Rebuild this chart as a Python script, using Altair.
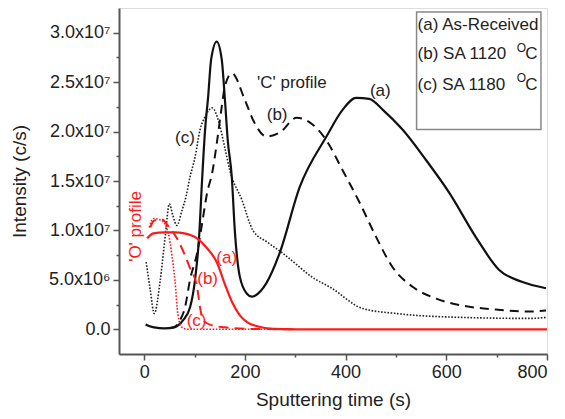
import altair as alt
import pandas as pd

FONT = "Liberation Sans"

# ---- 'C' profile curves (x: sputtering time s, y: intensity in 1e6 c/s) ----
c_a_x = [3, 6, 20, 40, 60, 65, 77, 91, 101, 109, 115, 121, 127, 133, 144, 154, 160, 166, 174, 180, 190, 204, 214, 220, 243, 269, 309, 362, 394, 421, 447, 474, 513, 560, 606, 659, 705, 750, 798]
c_a_y = [0.5, 0.4, 0.2, 0.1, 0.2, 0.3, 0.9, 2.2, 5.0, 9.3, 15.1, 20.2, 23.5, 27.3, 29.1, 27.3, 23.5, 19.1, 15.4, 10.0, 5.3, 3.6, 3.3, 3.4, 4.7, 7.7, 14.4, 19.5, 22.2, 23.4, 23.3, 22.2, 20.2, 17.1, 13.8, 9.3, 6.0, 4.8, 4.15]

c_b_x = [50, 62, 71, 81, 91, 105, 115, 125, 135, 145, 154, 160, 174, 200, 216, 243, 269, 303, 335, 362, 394, 428, 461, 493, 533, 580, 632, 699, 764, 798]
c_b_y = [0.1, 0.3, 0.9, 2.2, 5.0, 7.7, 10.7, 13.8, 15.8, 19.1, 22.5, 24.5, 25.9, 23.2, 21.2, 19.5, 19.9, 21.4, 20.7, 19.1, 16.1, 12.8, 9.3, 6.3, 4.3, 3.1, 2.4, 2.0, 1.8, 1.9]

c_c_x = [4, 12, 20, 32, 42, 50, 57, 65, 75, 83, 91, 101, 111, 121, 135, 147, 160, 170, 194, 216, 245, 275, 342, 368, 434, 500, 632, 764, 798]
c_c_y = [6.8, 4.0, 1.6, 5.0, 9.5, 12.7, 11.5, 10.5, 12.0, 13.4, 15.4, 17.4, 20.2, 21.5, 22.4, 21.2, 18.4, 16.1, 13.1, 10.0, 8.8, 7.7, 5.0, 4.3, 2.1, 1.6, 1.2, 1.1, 1.2]

# ---- 'O' profile curves ----
o_a_x = [6, 18, 40, 61, 80, 105, 125, 145, 160, 175, 190, 205, 225, 256, 300, 800]
o_a_y = [9.2, 9.7, 9.8, 9.8, 9.7, 9.2, 8.2, 6.7, 4.6, 2.7, 1.4, 0.7, 0.3, 0.05, 0.0, 0.0]

o_b_x = [12, 20, 35, 50, 65, 80, 91, 105, 111, 117, 135, 160, 200, 300]
o_b_y = [10.3, 11.0, 11.1, 10.3, 9.2, 7.6, 6.2, 4.3, 2.2, 0.9, 0.4, 0.2, 0.05, 0.0]

o_c_x = [10, 18, 35, 48, 55, 61, 67, 75, 85, 300]
o_c_y = [10.3, 11.2, 11.0, 9.7, 7.5, 5.0, 1.5, 0.2, 0.0, 0.0]

# ---- axis ticks ----
x_major = [0, 200, 400, 600, 800]
x_minor = [100, 300, 500, 700]
y_major = [0, 5e6, 1e7, 1.5e7, 2e7, 2.5e7, 3e7]
y_major_labels = ["0.0", "5.0x10\u2076", "1.0x10\u2077", "1.5x10\u2077", "2.0x10\u2077", "2.5x10\u2077", "3.0x10\u2077"]
y_minor = [2.5e6, 7.5e6, 1.25e7, 1.75e7, 2.25e7, 2.75e7]

# ---- annotations ----
ann_black_text = ["'C' profile", "(a)", "(b)", "(c)"]
ann_black_x = [224, 469, 264, 81]
ann_black_y = [24.9, 24.1, 21.7, 19.4]
ann_black_align = ["left", "center", "center", "center"]

ann_red_text = ["(a)", "(b)", "(c)"]
ann_red_x = [164, 126, 104]
ann_red_y = [7.2, 5.1, 0.8]

o_label_text = ["'O' profile"]
o_label_x = [-16]
o_label_y = [10.4]

legend_text = ["(a) As-Received", "(b) SA 1120", "(c) SA 1180"]
legend_x = [543, 543, 543]
legend_y = [30.8, 27.8, 24.7]
legend_sup_x = [740, 740]
legend_sup_y = [28.5, 25.4]
legend_c_x = [757, 757]
legend_c_y = [27.8, 24.7]
legend_box = {"x": 541, "x2": 788, "y": 32.1, "y2": 20.2}


def frame(xs, ys):
    return pd.DataFrame({"x": xs, "y": [v * 1e6 for v in ys]})


def cond_list(vals):
    return "[" + ",".join(str(int(v)) for v in vals) + "]"


y_label_expr = ""
for v, lab in zip(y_major, y_major_labels):
    y_label_expr += f"datum.value == {int(v)} ? '{lab}' : "
y_label_expr += "''"

X = alt.X(
    "x:Q",
    scale=alt.Scale(domain=[-50, 800], nice=False, zero=False),
    axis=alt.Axis(
        title="Sputtering time (s)",
        values=sorted(x_major + x_minor),
        labelExpr=f"indexof({cond_list(x_major)}, datum.value) >= 0 ? datum.label : ''",
        tickSize={"condition": {"test": f"indexof({cond_list(x_major)}, datum.value) >= 0", "value": 6}, "value": 3},
        grid=False,
        labelFont=FONT, labelFontSize=18, labelColor="#222", labelPadding=3,
        titleFont=FONT, titleFontSize=19, titleFontWeight="normal", titleColor="#222", titlePadding=9,
        domainColor="#555", domainWidth=2, tickColor="#555", tickWidth=1.5,
    ),
)
Y = alt.Y(
    "y:Q",
    scale=alt.Scale(domain=[-2.5e6, 3.25e7], nice=False, zero=False),
    axis=alt.Axis(
        title="Intensity (c/s)",
        values=sorted(y_major + y_minor),
        labelExpr=y_label_expr,
        tickSize={"condition": {"test": f"indexof({cond_list(y_major)}, datum.value) >= 0", "value": 6}, "value": 3},
        grid=False,
        labelFont=FONT, labelFontSize=18, labelColor="#222", labelPadding=3,
        titleFont=FONT, titleFontSize=19, titleFontWeight="normal", titleColor="#222", titlePadding=19,
        domainColor="#555", domainWidth=2, tickColor="#555", tickWidth=1.5,
    ),
)


def line(xs, ys, color, dash=None, width=2.0):
    kw = dict(color=color, strokeWidth=width, interpolate="monotone")
    if dash:
        kw["strokeDash"] = dash
    return alt.Chart(frame(xs, ys)).mark_line(**kw).encode(x=X, y=Y)


layers = [
    line(c_c_x, c_c_y, "#222", [1.6, 1.6], 1.6),
    line(c_b_x, c_b_y, "#111", [9, 6], 2),
    line(c_a_x, c_a_y, "#111", None, 2.2),
    line(o_c_x, o_c_y, "#ff1a1a", [1.6, 1.6], 1.6),
    line(o_b_x, o_b_y, "#ff1a1a", [10, 6], 2),
    line(o_a_x, o_a_y, "#ff1a1a", None, 2.2),
]

for t, xx, yy, al in zip(ann_black_text, ann_black_x, ann_black_y, ann_black_align):
    layers.append(
        alt.Chart(pd.DataFrame({"x": [xx], "y": [yy * 1e6], "t": [t]}))
        .mark_text(align=al, baseline="middle", font=FONT, fontSize=17, color="#222")
        .encode(x=X, y=Y, text="t:N")
    )

layers.append(
    alt.Chart(pd.DataFrame({"x": ann_red_x, "y": [v * 1e6 for v in ann_red_y], "t": ann_red_text}))
    .mark_text(align="center", baseline="middle", font=FONT, fontSize=17, color="#ff1a1a")
    .encode(x=X, y=Y, text="t:N")
)
layers.append(
    alt.Chart(pd.DataFrame({"x": o_label_x, "y": [v * 1e6 for v in o_label_y], "t": o_label_text}))
    .mark_text(align="center", baseline="middle", angle=270, font=FONT, fontSize=17, color="#ff1a1a")
    .encode(x=X, y=Y, text="t:N")
)

# legend box and entries
layers.append(
    alt.Chart(pd.DataFrame({"x": [legend_box["x"]], "x2": [legend_box["x2"]],
                            "y": [legend_box["y"] * 1e6], "y2": [legend_box["y2"] * 1e6]}))
    .mark_rect(fillOpacity=0, stroke="#888", strokeWidth=1.5)
    .encode(x=X, x2="x2:Q", y=Y, y2="y2:Q")
)
layers.append(
    alt.Chart(pd.DataFrame({"x": legend_x, "y": [v * 1e6 for v in legend_y], "t": legend_text}))
    .mark_text(align="left", baseline="middle", font=FONT, fontSize=17, color="#222")
    .encode(x=X, y=Y, text="t:N")
)
layers.append(
    alt.Chart(pd.DataFrame({"x": legend_sup_x, "y": [v * 1e6 for v in legend_sup_y], "t": ["O", "O"]}))
    .mark_text(align="left", baseline="middle", font=FONT, fontSize=12, color="#222")
    .encode(x=X, y=Y, text="t:N")
)
layers.append(
    alt.Chart(pd.DataFrame({"x": legend_c_x, "y": [v * 1e6 for v in legend_c_y], "t": ["C", "C"]}))
    .mark_text(align="left", baseline="middle", font=FONT, fontSize=17, color="#222")
    .encode(x=X, y=Y, text="t:N")
)

chart = (
    alt.layer(*layers)
    .properties(width=428, height=346, autosize="none",
                padding={"left": 111, "top": 0, "right": 8, "bottom": 57})
    .configure_view(stroke="#555", strokeWidth=2)
    .configure(background="white")
)

chart.save("out.html", embed_options={"renderer": "svg", "actions": False})
